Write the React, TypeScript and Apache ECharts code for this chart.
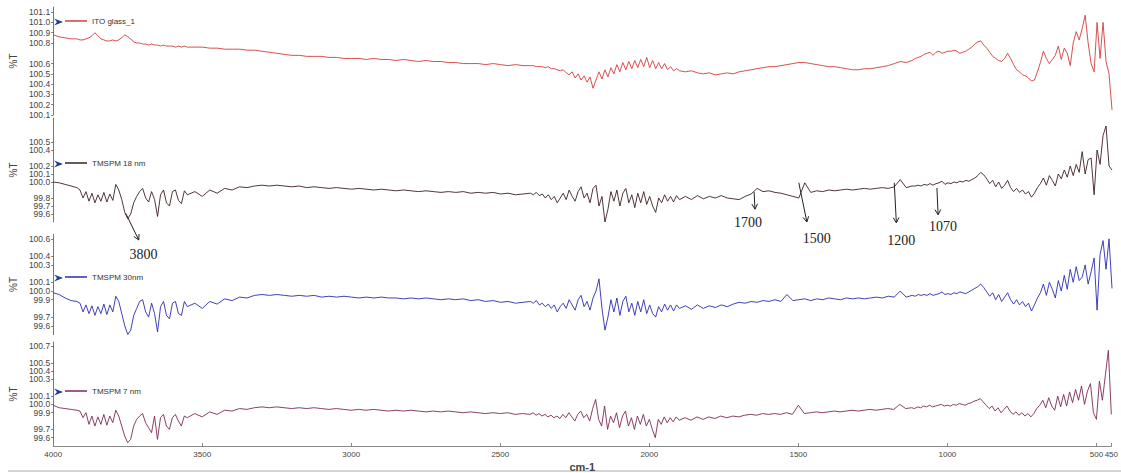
import React, { useEffect, useRef } from 'react';
import * as echarts from 'echarts';

// sampling grid (cm-1), descending
const seq = (from: number, to: number, step: number) => {
  const out: number[] = [];
  for (let w = from; w >= to - 1e-9; w -= step) out.push(Math.round(w));
  return out;
};
const wavenumbers: number[] = [
  4000, 3980, 3960, 3940, 3920,
  ...seq(3910, 3550, 10),
  ...seq(3525, 2425, 25),
  ...seq(2400, 1900, 10),
  ...seq(1880, 1120, 20),
  ...seq(1110, 450, 10),
];

const seriesNames = ['ITO glass_1', 'TMSPM 18 nm', 'TMSPM 30nm', 'TMSPM 7 nm'];
const seriesColors = ['#d63b3b', '#3d1f22', '#2b2bb3', '#7a2a57'];

const itoGlass = [
  100.88, 100.86, 100.85, 100.84, 100.84,
  100.83, 100.83, 100.84, 100.85, 100.87, 100.90, 100.87, 100.84, 100.83, 100.82,
  100.82, 100.83, 100.82, 100.83, 100.85, 100.88, 100.86, 100.84, 100.81, 100.80,
  100.80, 100.79, 100.79, 100.78, 100.79, 100.78, 100.78, 100.77, 100.78, 100.77,
  100.77, 100.77, 100.76, 100.77, 100.76, 100.77, 100.76,
  100.76, 100.76, 100.75, 100.75, 100.74, 100.74, 100.74, 100.73, 100.73, 100.72,
  100.71, 100.70, 100.69, 100.68, 100.68, 100.67, 100.67, 100.67, 100.66, 100.66,
  100.65, 100.65, 100.65, 100.64, 100.65, 100.64, 100.64, 100.63, 100.64, 100.63,
  100.62, 100.63, 100.62, 100.62, 100.61, 100.61, 100.60, 100.60, 100.60, 100.59,
  100.60, 100.59, 100.58, 100.59, 100.58,
  100.58, 100.58, 100.57, 100.57, 100.57, 100.56, 100.57, 100.55, 100.55, 100.54,
  100.53, 100.54, 100.51, 100.49, 100.52, 100.46, 100.50, 100.44, 100.48, 100.42,
  100.47, 100.36, 100.44, 100.52, 100.45, 100.54, 100.47, 100.56, 100.50, 100.59,
  100.52, 100.61, 100.54, 100.62, 100.55, 100.63, 100.56, 100.64, 100.57, 100.66,
  100.56, 100.63, 100.55, 100.61, 100.55, 100.60, 100.54, 100.57, 100.53, 100.55,
  100.53,
  100.52, 100.53, 100.51, 100.50, 100.51, 100.49, 100.50, 100.51, 100.50, 100.52,
  100.53, 100.54, 100.55, 100.56, 100.57, 100.57, 100.58, 100.59, 100.60, 100.61,
  100.61, 100.60, 100.59, 100.58, 100.57, 100.57, 100.56, 100.55, 100.54, 100.54,
  100.55, 100.55, 100.56, 100.57, 100.58, 100.60, 100.62, 100.61, 100.63,
  100.65, 100.66, 100.67, 100.69, 100.70, 100.71, 100.68, 100.71, 100.72, 100.70,
  100.71, 100.72, 100.72, 100.73, 100.72, 100.70, 100.71, 100.72, 100.74, 100.76,
  100.79, 100.81, 100.82, 100.78, 100.75, 100.71, 100.67, 100.65, 100.63, 100.62,
  100.65, 100.70, 100.65, 100.59, 100.54, 100.52, 100.49, 100.48, 100.46, 100.43,
  100.44, 100.52, 100.61, 100.72, 100.65, 100.60, 100.64, 100.68, 100.77, 100.64,
  100.75, 100.70, 100.58, 100.80, 100.91, 100.83, 100.94, 101.07, 100.80, 100.60,
  100.52, 101.00, 100.65, 101.00, 100.62, 100.50, 100.15,
];

const tmspm18 = [
  100.00, 99.99, 99.97, 99.95, 99.93,
  99.90, 99.80, 99.88, 99.76, 99.86, 99.74, 99.84, 99.76, 99.87, 99.75,
  99.85, 99.77, 99.97, 99.90, 99.78, 99.62, 99.54, 99.60, 99.74, 99.82,
  99.88, 99.92, 99.80, 99.75, 99.88, 99.78, 99.57, 99.84, 99.90, 99.74,
  99.70, 99.88, 99.90, 99.77, 99.73, 99.89, 99.84,
  99.88, 99.82, 99.90, 99.86, 99.92, 99.90, 99.94, 99.93, 99.95, 99.96,
  99.95, 99.96, 99.95, 99.94, 99.95, 99.93, 99.94, 99.93, 99.92, 99.93,
  99.92, 99.91, 99.92, 99.91, 99.90, 99.91, 99.90, 99.89, 99.90, 99.89,
  99.88, 99.89, 99.88, 99.87, 99.88, 99.87, 99.88, 99.86, 99.87, 99.86,
  99.87, 99.85, 99.86, 99.84, 99.85,
  99.86, 99.84, 99.87, 99.83, 99.85, 99.80, 99.84, 99.78, 99.82, 99.74,
  99.80, 99.86, 99.78, 99.90, 99.82, 99.76, 99.88, 99.94, 99.80, 99.86,
  99.74, 99.92, 99.96, 99.70, 99.82, 99.50, 99.66, 99.88, 99.76, 99.90,
  99.70, 99.86, 99.92, 99.74, 99.84, 99.68, 99.86, 99.74, 99.88, 99.72,
  99.82, 99.70, 99.62, 99.80, 99.74, 99.84, 99.76, 99.82, 99.75, 99.83,
  99.78,
  99.82, 99.78, 99.83, 99.79, 99.82, 99.80, 99.83, 99.80, 99.79, 99.78,
  99.82, 99.85, 99.92, 99.88, 99.89, 99.87, 99.86, 99.84, 99.82, 99.80,
  99.99, 99.87, 99.89, 99.88, 99.90, 99.89, 99.90, 99.91, 99.90, 99.91,
  99.92, 99.91, 99.92, 99.93, 99.92, 99.94, 100.03, 99.93, 99.95,
  99.95, 99.96, 99.95, 99.97, 99.96, 99.98, 99.96, 99.98, 99.99, 100.01,
  99.97, 99.99, 99.98, 100.00, 99.99, 100.01, 100.00, 100.02, 100.01, 100.03,
  100.05, 100.08, 100.12, 100.09, 100.04, 99.98, 100.02, 99.94, 100.00, 99.92,
  99.96, 100.02, 99.93, 99.88, 99.92, 99.87, 99.90, 99.85, 99.88, 99.81,
  99.86, 99.93, 99.98, 100.05, 99.96, 100.08, 100.02, 99.95, 100.10, 100.04,
  100.15, 100.06, 100.20, 100.08, 100.22, 100.12, 100.38, 100.10, 100.28, 100.30,
  99.84, 100.40, 100.22, 100.58, 100.70, 100.20, 100.15,
];

const tmspm30 = [
  99.98, 99.96, 99.92, 99.89, 99.88,
  99.86, 99.76, 99.84, 99.74, 99.83, 99.72, 99.82, 99.74, 99.85, 99.73,
  99.84, 99.76, 99.94, 99.88, 99.74, 99.60, 99.50, 99.55, 99.72, 99.80,
  99.88, 99.90, 99.76, 99.70, 99.86, 99.74, 99.53, 99.82, 99.88, 99.72,
  99.68, 99.86, 99.88, 99.74, 99.72, 99.88, 99.82,
  99.86, 99.80, 99.88, 99.85, 99.91, 99.89, 99.93, 99.92, 99.95, 99.96,
  99.95, 99.96, 99.95, 99.94, 99.95, 99.94, 99.95, 99.93, 99.94, 99.93,
  99.94, 99.93, 99.92, 99.93, 99.92, 99.93, 99.92, 99.92, 99.91, 99.92,
  99.91, 99.92, 99.91, 99.90, 99.91, 99.90, 99.91, 99.89, 99.90, 99.88,
  99.89, 99.87, 99.88, 99.86, 99.87,
  99.88, 99.86, 99.89, 99.84, 99.86, 99.82, 99.85, 99.80, 99.84, 99.76,
  99.82, 99.86, 99.80, 99.90, 99.84, 99.78, 99.90, 99.95, 99.82, 99.88,
  99.78, 99.92, 100.00, 100.14, 99.80, 99.55, 99.70, 99.90, 99.76, 99.92,
  99.72, 99.88, 99.94, 99.76, 99.86, 99.72, 99.88, 99.76, 99.90, 99.74,
  99.84, 99.74, 99.70, 99.82, 99.76, 99.85, 99.78, 99.84, 99.77, 99.84,
  99.80,
  99.83, 99.79, 99.84, 99.80, 99.83, 99.81, 99.84, 99.82, 99.85, 99.87,
  99.86, 99.88, 99.87, 99.89, 99.88, 99.90, 99.88, 99.96, 99.89, 99.90,
  99.91, 99.89, 99.91, 99.90, 99.92, 99.91, 99.90, 99.92, 99.91, 99.92,
  99.91, 99.92, 99.93, 99.92, 99.94, 99.93, 100.00, 99.93, 99.95,
  99.94, 99.96, 99.95, 99.96, 99.95, 99.97, 99.95, 99.96, 99.97, 99.99,
  99.96, 99.97, 99.96, 99.98, 99.97, 99.99, 99.98, 99.97, 99.99, 100.01,
  100.03, 100.05, 100.08, 100.04, 99.99, 99.94, 99.98, 99.90, 99.96, 99.88,
  99.93, 99.98, 99.90, 99.85, 99.90, 99.84, 99.88, 99.82, 99.86, 99.77,
  99.84, 99.92, 99.98, 100.08, 99.95, 100.10, 100.02, 99.92, 100.12, 100.00,
  100.18, 100.02, 100.25, 100.10, 100.28, 100.12, 100.16, 100.30, 100.08, 100.22,
  100.38, 99.78, 100.42, 100.58, 100.25, 100.60, 100.03,
];

const tmspm7 = [
  99.99, 99.96, 99.95, 99.94, 99.93,
  99.92, 99.84, 99.90, 99.76, 99.86, 99.74, 99.85, 99.76, 99.88, 99.75,
  99.86, 99.78, 99.93, 99.86, 99.74, 99.62, 99.54, 99.58, 99.74, 99.82,
  99.86, 99.89, 99.78, 99.72, 99.66, 99.86, 99.58, 99.84, 99.88, 99.74,
  99.70, 99.84, 99.88, 99.80, 99.74, 99.86, 99.84,
  99.89, 99.85, 99.91, 99.88, 99.93, 99.92, 99.95, 99.94, 99.96, 99.97,
  99.96, 99.97, 99.96, 99.95, 99.96, 99.95, 99.96, 99.95, 99.94, 99.95,
  99.94, 99.93, 99.94, 99.93, 99.94, 99.93, 99.92, 99.93, 99.92, 99.93,
  99.92, 99.91, 99.92, 99.91, 99.92, 99.91, 99.90, 99.91, 99.90, 99.89,
  99.90, 99.89, 99.90, 99.88, 99.89,
  99.88, 99.90, 99.87, 99.89, 99.86, 99.88, 99.85, 99.87, 99.84, 99.86,
  99.83, 99.88, 99.84, 99.90, 99.85, 99.80, 99.88, 99.92, 99.84, 99.88,
  99.80, 99.95, 100.06, 99.82, 99.74, 99.98, 99.70, 99.86, 99.78, 99.90,
  99.72, 99.86, 99.92, 99.74, 99.84, 99.70, 99.86, 99.76, 99.88, 99.74,
  99.82, 99.70, 99.60, 99.82, 99.76, 99.85, 99.78, 99.84, 99.79, 99.85,
  99.81,
  99.84, 99.81, 99.85, 99.82, 99.85, 99.83, 99.86, 99.84, 99.86, 99.85,
  99.87, 99.88, 99.87, 99.89, 99.88, 99.89, 99.88, 99.90, 99.88, 99.99,
  99.89, 99.90, 99.91, 99.90, 99.91, 99.92, 99.91, 99.92, 99.93, 99.92,
  99.93, 99.94, 99.93, 99.94, 99.95, 99.94, 100.00, 99.95, 99.96,
  99.95, 99.97, 99.96, 99.98, 99.97, 99.99, 99.97, 99.98, 99.99, 100.00,
  99.98, 99.99, 99.98, 100.00, 99.99, 100.01, 100.00, 99.99, 100.01, 100.02,
  100.04, 100.05, 100.07, 100.03, 99.99, 99.95, 99.98, 99.92, 99.96, 99.90,
  99.94, 99.98, 99.92, 99.88, 99.91, 99.87, 99.90, 99.86, 99.89, 99.85,
  99.89, 99.95, 99.99, 100.05, 99.96, 100.08, 99.98, 99.93, 100.10, 99.97,
  100.12, 99.98, 100.15, 100.02, 100.18, 100.05, 100.22, 100.00, 100.16, 100.25,
  99.90, 99.82, 100.28, 100.05, 100.35, 100.65, 99.88,
];

const seriesValues = [itoGlass, tmspm18, tmspm30, tmspm7];

// y tick labels shown on each panel
const yTicks1 = [101.1, 101.0, 100.9, 100.8, 100.6, 100.5, 100.4, 100.3, 100.2, 100.1];
const yTicks2 = [100.6, 100.5, 100.4, 100.2, 100.1, 100.0, 99.8, 99.7, 99.6, 99.5];
const yTicks3 = [100.6, 100.4, 100.3, 100.1, 100.0, 99.9, 99.7, 99.6, 99.5];
const yTicks4 = [100.7, 100.5, 100.4, 100.3, 100.1, 100.0, 99.9, 99.7, 99.6, 99.5];
const yTicks = [yTicks1, yTicks2, yTicks3, yTicks4];
const yMin = [100.1, 99.5, 99.5, 99.5];
const yMax = [101.15, 100.8, 100.65, 100.75];

const xTicks = [4000, 3500, 3000, 2500, 2000, 1500, 1000, 500, 450];

// peak annotations on the TMSPM 18 nm panel (wavenumber, %T)
const annLabels = ['3800', '1700', '1500', '1200', '1070'];
const annFrom = [[3757, 99.61], [1650, 99.875], [1500, 99.99], [1180, 99.99], [1037, 99.925]];
const annTo = [[3713, 99.275], [1647, 99.66], [1473, 99.5], [1173, 99.49], [1033, 99.59]];
const annText = [[3697, 99.1], [1670, 99.5], [1440, 99.29], [1157, 99.275], [1017, 99.44]];

// layout
const panelTop = [7, 118, 234.5, 342];
const panelHeight = [108, 104, 100, 107];
const legendTop = [17, 159, 273, 387];

export default function App() {
  const ref = useRef<HTMLDivElement>(null);
  useEffect(() => {
    if (!ref.current) return;
    const chart = echarts.init(ref.current, undefined, { renderer: 'svg' });
    const font = 'Liberation Sans';
    const option: any = {
      animation: false,
      backgroundColor: '#ffffff',
      grid: panelTop.map((t, i) => ({ left: 47, right: 9, top: t, height: panelHeight[i] })),
      xAxis: panelTop.map((_, i) => ({
        type: 'value',
        gridIndex: i,
        min: 450,
        max: 4000,
        inverse: true,
        show: i === 3,
        name: i === 3 ? 'cm-1' : '',
        nameLocation: 'middle',
        nameGap: 15,
        nameTextStyle: { fontSize: 11, fontWeight: 'bold', color: '#444', fontFamily: font },
        axisLine: { show: true, lineStyle: { color: '#888', width: 1 } },
        axisTick: { show: true, inside: true, length: 3, customValues: xTicks, lineStyle: { color: '#888' } },
        axisLabel: { fontSize: 8, color: '#444', margin: 4, fontFamily: font, customValues: xTicks, formatter: (v: number) => String(v) },
        splitLine: { show: false },
      })),
      yAxis: panelTop.map((_, i) => ({
        type: 'value',
        gridIndex: i,
        min: yMin[i],
        max: yMax[i],
        name: '%T',
        nameLocation: 'middle',
        nameRotate: 90,
        nameGap: 26,
        nameTextStyle: { fontSize: 10, color: '#444', fontFamily: font },
        axisLine: { show: true, lineStyle: { color: '#777', width: 1 } },
        axisTick: { show: true, length: 2, customValues: yTicks[i], lineStyle: { color: '#777' } },
        axisLabel: {
          fontSize: 8.5, color: '#444', margin: 3, fontFamily: font,
          customValues: yTicks[i],
          formatter: (v: number) => v.toFixed(1),
        },
        splitLine: { show: false },
      })),
      legend: seriesNames.map((n, i) => ({
        data: [n],
        left: 65,
        top: legendTop[i],
        icon: 'rect',
        itemWidth: 22,
        itemHeight: 1.5,
        padding: 0,
        selectedMode: false,
        textStyle: { fontSize: 8, color: '#333', fontFamily: font },
      })),
      series: seriesNames.map((n, i) => ({
        name: n,
        type: 'line',
        xAxisIndex: i,
        yAxisIndex: i,
        showSymbol: false,
        symbol: 'none',
        clip: false,
        color: seriesColors[i],
        lineStyle: { width: 0.9, color: seriesColors[i] },
        data: wavenumbers.map((w, k) => [w, seriesValues[i][k]]),
      })),
    };
    chart.setOption(option);

    const graphics: any[] = [];
    legendTop.forEach((t) => {
      const cy = t + 5;
      graphics.push({
        type: 'polygon',
        shape: { points: [[54, cy - 3.5], [63, cy], [54, cy + 3.5], [57, cy]] },
        style: { fill: '#1d3f8f' },
      });
    });
    annLabels.forEach((lab, i) => {
      const s = chart.convertToPixel({ gridIndex: 1 }, annFrom[i]) as number[];
      const e = chart.convertToPixel({ gridIndex: 1 }, annTo[i]) as number[];
      const tp = chart.convertToPixel({ gridIndex: 1 }, annText[i]) as number[];
      const dx = e[0] - s[0];
      const dy = e[1] - s[1];
      const len = Math.sqrt(dx * dx + dy * dy) || 1;
      const ux = dx / len;
      const uy = dy / len;
      const ah = 6;
      const ang = 0.5;
      const w1 = [e[0] - ah * (ux * Math.cos(ang) - uy * Math.sin(ang)), e[1] - ah * (uy * Math.cos(ang) + ux * Math.sin(ang))];
      const w2 = [e[0] - ah * (ux * Math.cos(-ang) - uy * Math.sin(-ang)), e[1] - ah * (uy * Math.cos(-ang) + ux * Math.sin(-ang))];
      graphics.push({ type: 'polyline', shape: { points: [s, e] }, style: { stroke: '#222', lineWidth: 1, fill: null } });
      graphics.push({ type: 'polyline', shape: { points: [w1, e, w2] }, style: { stroke: '#222', lineWidth: 1, fill: null } });
      graphics.push({
        type: 'text',
        x: tp[0],
        y: tp[1],
        style: { text: lab, fill: '#222', font: '14px "Liberation Serif"', align: 'center', verticalAlign: 'middle' },
      });
    });
    graphics.push({ type: 'line', shape: { x1: 8, y1: 471, x2: 1121, y2: 471 }, style: { stroke: '#aaa', lineWidth: 1 } });
    chart.setOption({ graphic: graphics });

    return () => chart.dispose();
  }, []);
  return (
    <div
      ref={ref}
      style={{ position: 'absolute', left: 0, top: 0, width: 1121, height: 473, background: '#fff' }}
    />
  );
}
